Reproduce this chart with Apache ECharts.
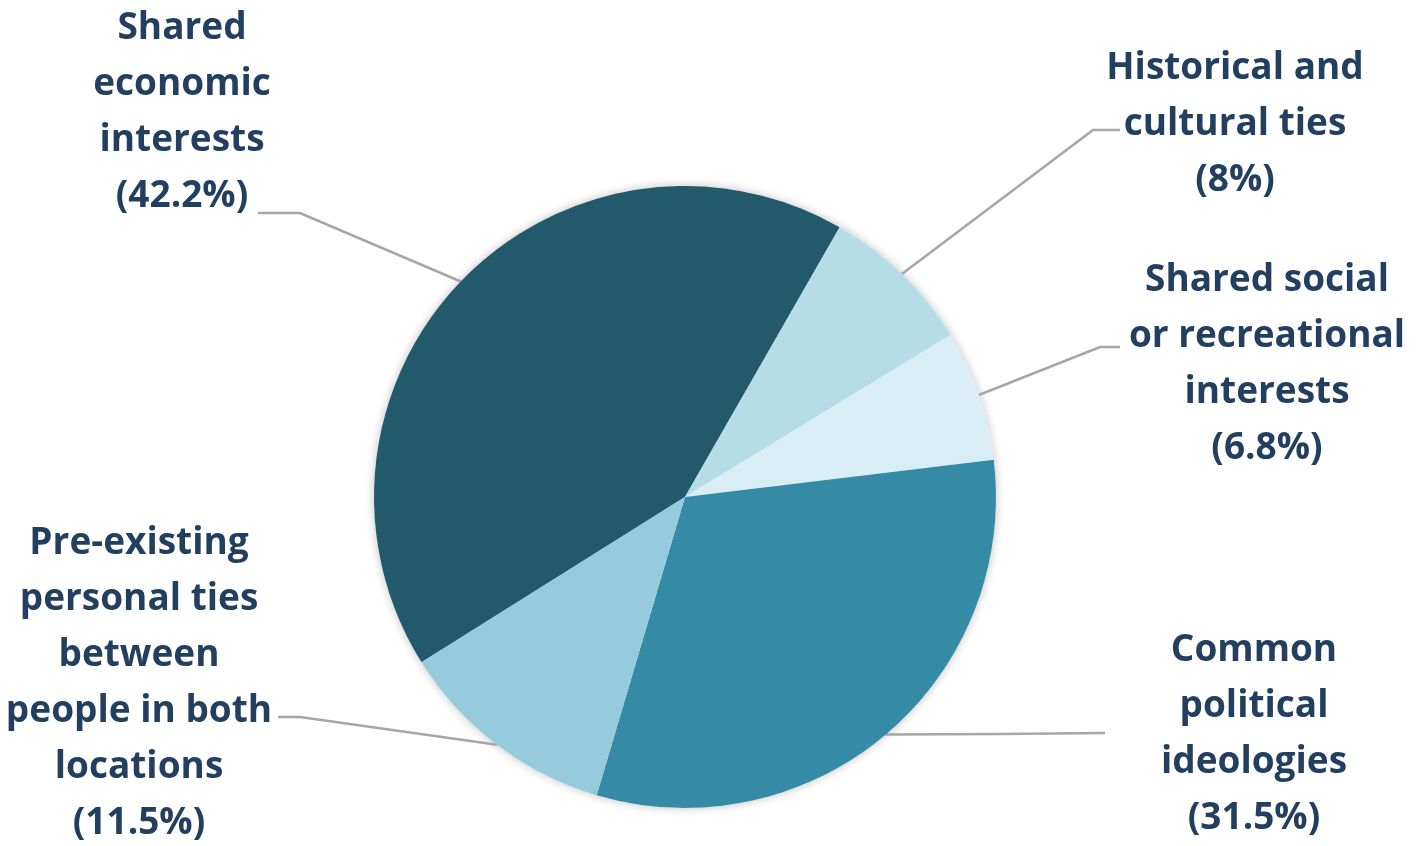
<!DOCTYPE html>
<html>
<head>
<meta charset="utf-8">
<script src="https://cdn.jsdelivr.net/npm/echarts@6/dist/echarts.min.js"></script>
<style>
  html, body { margin: 0; padding: 0; background: #fff; }
  #container { width: 1421px; height: 846px; }
</style>
</head>
<body>
<div id="container"></div>
<script>
// Dados do gráfico (ordem horária, como no original)
var categories = [
    'Shared\neconomic\ninterests',
    'Historical and\ncultural ties',
    'Shared social\nor recreational\ninterests',
    'Common\npolitical\nideologies',
    'Pre-existing\npersonal ties\nbetween\npeople in both\nlocations'
];
var percentValues = [42.2, 8, 6.8, 31.5, 11.5];
var sliceColors = ['#22596b', '#b5dce7', '#d9edf4', '#358aa5', '#95cbdd'];

// Posição dos rótulos e das linhas guia
var labelPos = [
    { x: 182, y: 112, elbow: [300, 213], end: [258, 213] },
    { x: 1235, y: 124, elbow: [1093, 130], end: [1120, 130] },
    { x: 1267, y: 364, elbow: [1100, 347], end: [1120, 347] },
    { x: 1254, y: 734, elbow: [1000, 734], end: [1105, 733] },
    { x: 139, y: 683, elbow: [300, 717], end: [278, 717] }
];

var dom = document.getElementById('container');
var myChart = echarts.init(dom, null, { renderer: 'canvas' });

var total = percentValues.reduce(function (a, b) { return a + b; }, 0);

var option = {
    animation: false,
    series: [
        {
            // disco de fundo só para a sombra suave
            type: 'pie',
            silent: true,
            center: [685, 497],
            radius: 311,
            z: 1,
            label: { show: false },
            labelLine: { show: false },
            itemStyle: {
                color: '#ffffff',
                shadowBlur: 10,
                shadowColor: 'rgba(0,0,0,0.25)'
            },
            data: [{ value: total, name: 'bg' }]
        },
        {
            type: 'pie',
            center: [685, 497],
            radius: 311,
            startAngle: 212.1,
            clockwise: true,
            z: 2,
            avoidLabelOverlap: false,
            itemStyle: { borderWidth: 0 },
            label: {
                show: true,
                position: 'outside',
                fontFamily: 'Open Sans',
                fontWeight: 'bold',
                fontSize: 37,
                lineHeight: 56,
                color: '#233f60',
                formatter: function (p) {
                    return p.name + '\n(' + p.value + '%)';
                }
            },
            labelLine: {
                show: true,
                lineStyle: { color: '#a6a6a6', width: 2.5 }
            },
            labelLayout: function (params) {
                var p = labelPos[params.dataIndex];
                var start = params.labelLinePoints ? params.labelLinePoints[0] : p.elbow;
                return {
                    x: p.x,
                    y: p.y,
                    align: 'center',
                    verticalAlign: 'middle',
                    labelLinePoints: [start, p.elbow, p.end]
                };
            },
            data: categories.map(function (c, i) {
                return { value: percentValues[i], name: c, itemStyle: { color: sliceColors[i] } };
            })
        }
    ]
};

myChart.setOption(option);

window.addEventListener('resize', function () {
    myChart.resize();
});
</script>
</body>
</html>
